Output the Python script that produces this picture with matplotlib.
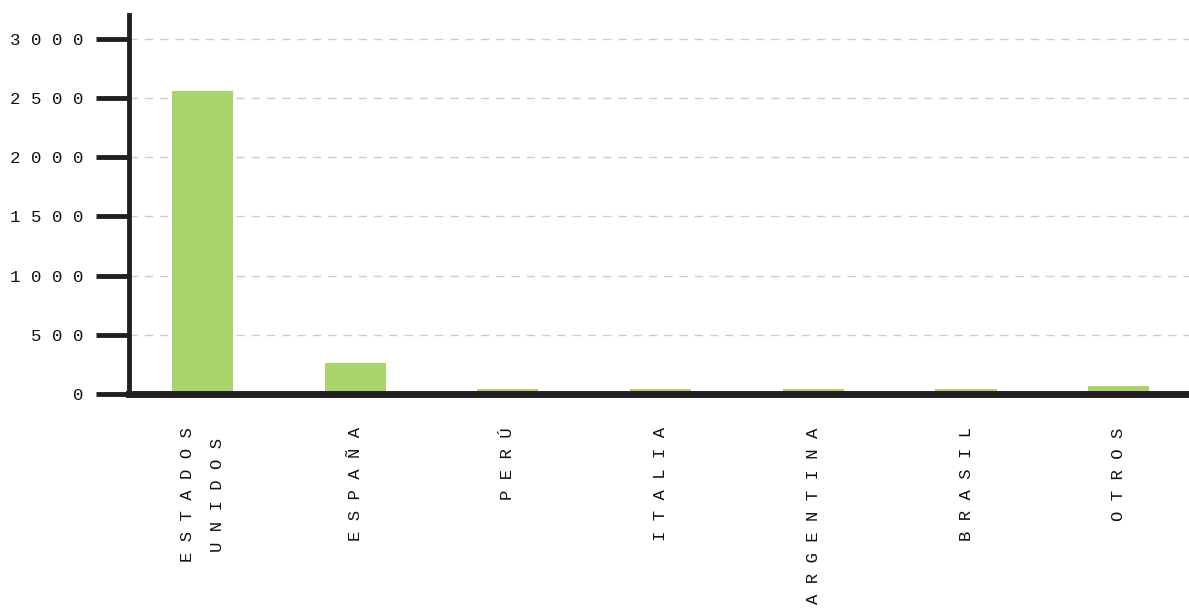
import matplotlib
matplotlib.use('Agg')
import matplotlib.pyplot as plt

countries = ['ESTADOS\nUNIDOS', 'ESPAÑA', 'PERÚ', 'ITALIA', 'ARGENTINA', 'BRASIL', 'OTROS']
values = [2555, 262, 42, 42, 42, 41, 68]
yticks = [0, 500, 1000, 1500, 2000, 2500, 3000]


def spaced(s):
    # letter-spaced look of the original
    return '\n'.join(' '.join(line) for line in s.split('\n'))


W, H = 1189, 610
fig = plt.figure(figsize=(W / 100, H / 100), dpi=100)
ax = fig.add_axes((129 / W, 1 - 394 / H, 1 - 129 / W, (394 - 15) / H))

x = list(range(len(countries)))
ax.bar(x, values, width=0.4, color='#a9d46c', zorder=2)

ax.set_xlim(-0.48, 6.46)
ax.set_ylim(0, 3200)
ax.set_yticks(yticks)
ax.set_yticklabels([spaced(str(v)) for v in yticks], family='Liberation Mono',
                   fontsize=12.6, color='#111111')
ax.set_xticks(x)
ax.set_xticklabels([spaced(c) for c in countries], family='Liberation Mono', fontsize=12.4,
                   rotation=90, ha='center', va='top', multialignment='center',
                   linespacing=2.3, color='#111111')

ax.yaxis.grid(True, color='#cccccc', linestyle=(0, (6, 5)), linewidth=1, zorder=0)
ax.set_axisbelow(True)

for side in ('top', 'right'):
    ax.spines[side].set_visible(False)
ax.spines['left'].set_linewidth(3.5)
ax.spines['bottom'].set_linewidth(5)
ax.spines['left'].set_color('#231f20')
ax.spines['bottom'].set_color('#231f20')
ax.spines['bottom'].set_zorder(3)
ax.tick_params(axis='y', length=24, width=3.5, color='#231f20', pad=9)
ax.tick_params(axis='x', length=0, pad=24)

fig.savefig('out.png', dpi=100)
